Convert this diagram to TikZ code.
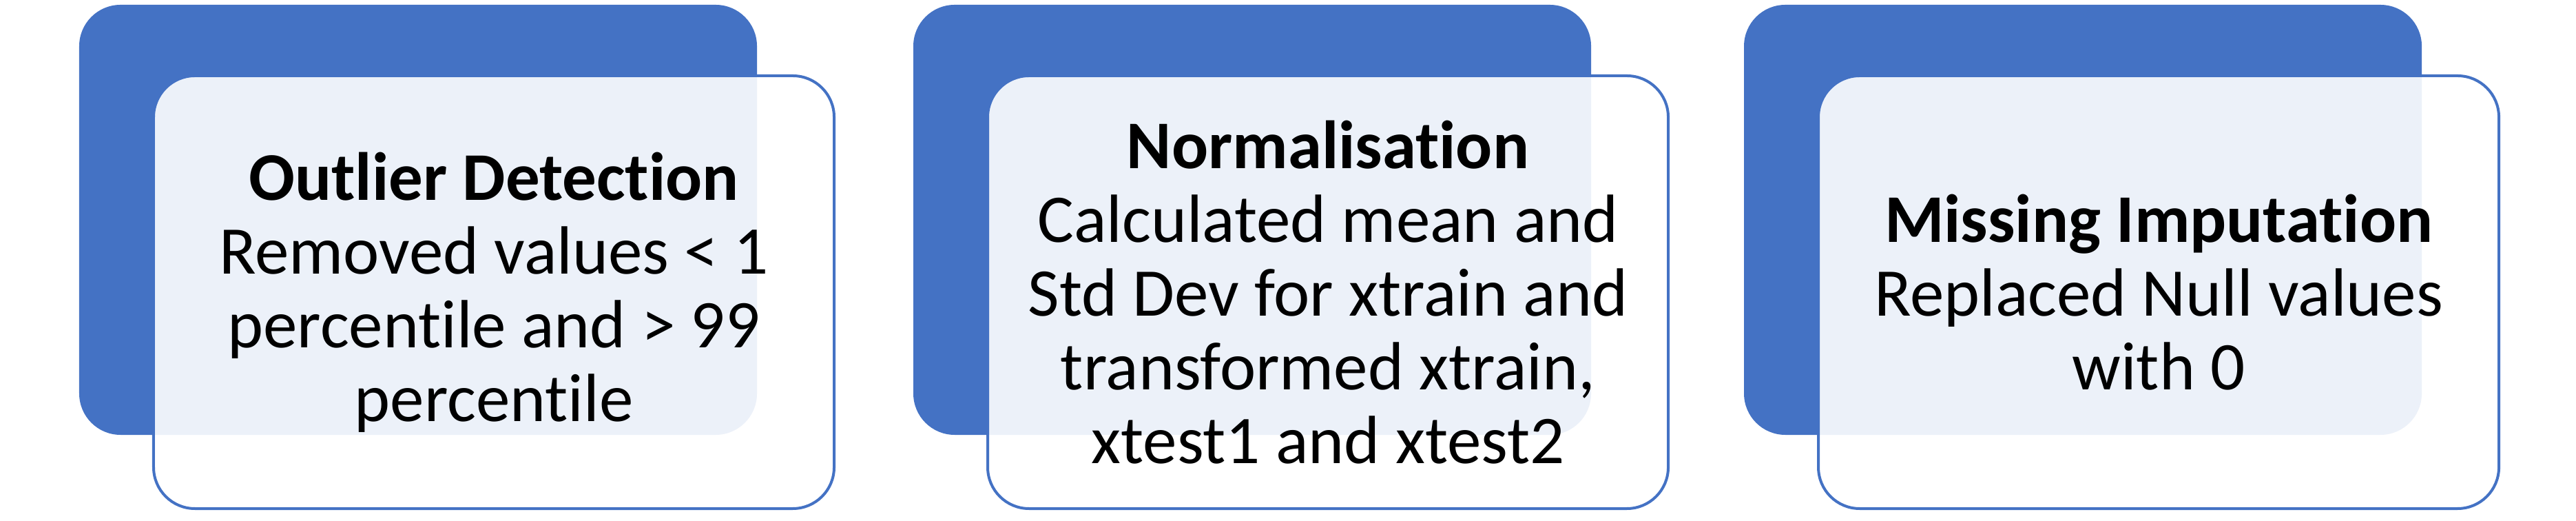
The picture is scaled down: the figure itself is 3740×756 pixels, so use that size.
\documentclass[tikz,border=0pt]{standalone}
\usepackage{fontspec}
\setmainfont{Carlito}[Ligatures=NoCommon]
\definecolor{accent}{RGB}{68,114,196}
\begin{document}
\begin{tikzpicture}[x=0.2pt,y=-0.2pt,
 backbox/.style={rectangle, rounded corners=12pt, fill=accent, minimum width=196.8pt, minimum height=124.8pt, inner sep=0pt, outer sep=0pt},
 frontbox/.style={rectangle, rounded corners=12pt, fill=white, fill opacity=0.9, text opacity=1, draw=accent, draw opacity=1, line width=0.8pt, minimum width=197.6pt, minimum height=125.6pt, inner sep=0pt, align=center, font=\fontsize{19.8}{21.4}\selectfont, text=black}]
\useasboundingbox (0,0) rectangle (3740,756);
\node[backbox] (b1) at (607,319) {};
\node[frontbox] (f1) at (717,424) {\textbf{Outlier Detection}\\Removed values < 1\\percentile and > 99\\percentile};
\node[backbox] (b2) at (1818,319) {};
\node[frontbox] (f2) at (1928,424) {\textbf{Normalisation}\\Calculated mean and\\Std Dev for xtrain and\\transformed xtrain,\\xtest1 and xtest2};
\node[backbox] (b3) at (3024,319) {};
\node[frontbox] (f3) at (3134,424) {\textbf{Missing Imputation}\\Replaced Null values\\with 0};
\end{tikzpicture}
\end{document}
